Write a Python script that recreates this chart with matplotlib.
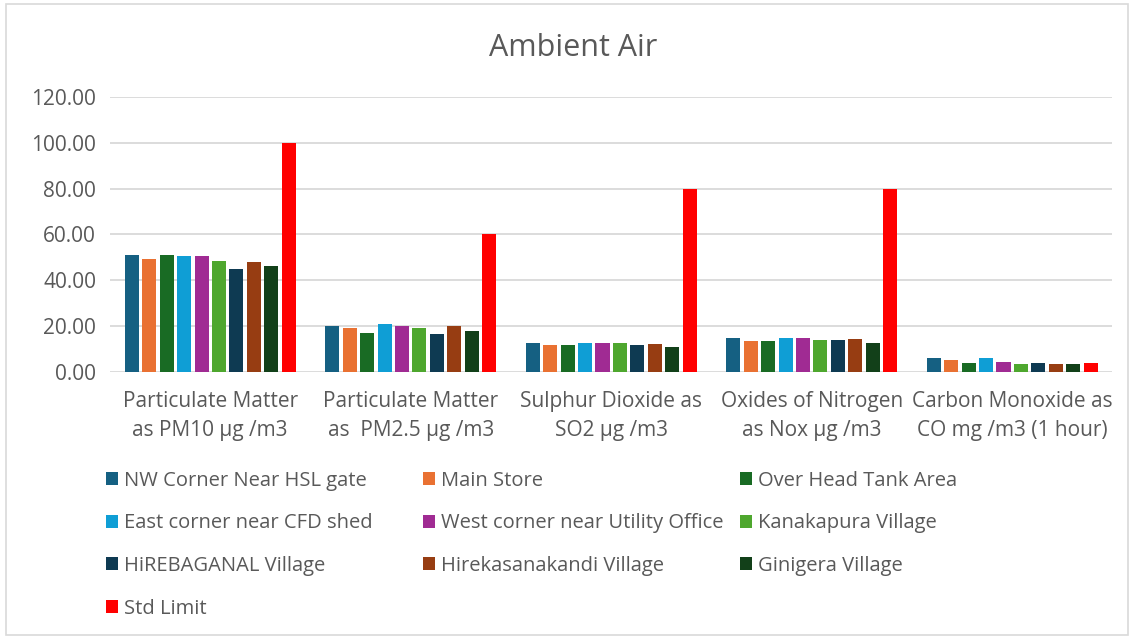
import matplotlib.pyplot as plt
import numpy as np
from matplotlib.patches import Rectangle

# Data
categories = ["Particulate Matter\nas PM10 µg /m3",
              "Particulate Matter\nas  PM2.5 µg /m3",
              "Sulphur Dioxide as\nSO2 µg /m3",
              "Oxides of Nitrogen\nas Nox µg /m3",
              "Carbon Monoxide as\nCO mg /m3 (1 hour)"]

locations = ["NW Corner Near HSL gate", "Main Store", "Over Head Tank Area",
             "East corner near CFD shed", "West corner near Utility Office", "Kanakapura Village",
             "HiREBAGANAL Village", "Hirekasanakandi Village", "Ginigera Village",
             "Std Limit"]

nw_corner = [51.0, 19.9, 12.6, 15.0, 6.2]
main_store = [49.3, 19.0, 11.9, 13.7, 5.0]
overhead_tank = [50.9, 16.8, 11.8, 13.7, 4.1]
east_corner = [50.6, 21.0, 12.8, 15.0, 6.2]
west_corner = [50.6, 19.9, 12.6, 15.0, 4.5]
kanakapura = [48.4, 19.0, 12.6, 14.1, 3.6]
hirebaganal = [44.8, 16.4, 11.9, 13.8, 4.1]
hirekasanakandi = [48.1, 20.0, 12.4, 14.5, 3.6]
ginigera = [46.4, 18.0, 11.0, 12.8, 3.6]
std_limit = [100, 60, 80, 80, 4.0]

colors = ["#156082", "#E97132", "#196B24", "#0F9ED5", "#A02B93",
          "#4EA72E", "#0E3A52", "#973D12", "#124019", "#FF0000"]

series = [nw_corner, main_store, overhead_tank, east_corner, west_corner,
          kanakapura, hirebaganal, hirekasanakandi, ginigera, std_limit]

text_col = "#595959"
plt.rcParams['font.family'] = ['Open Sans', 'DejaVu Sans']

fig = plt.figure(figsize=(11.34, 6.38), dpi=100)
ax = fig.add_axes([0.097, 0.417, 0.884, 0.431])

x = np.arange(len(categories))
slot = 0.087
width = 0.070
handles = []
for i, (vals, c) in enumerate(zip(series, colors)):
    offs = (i - 4.5) * slot
    b = ax.bar(x + offs, vals, width, color=c, label=locations[i], zorder=3)
    handles.append(b)

ax.set_xlim(-0.5, len(categories) - 0.5)
ax.set_ylim(0, 120)
ax.set_yticks(np.arange(0, 121, 20))
ax.set_yticklabels([f"{v:.2f}" for v in np.arange(0, 121, 20)])
ax.yaxis.grid(True, color="#D9D9D9", linewidth=1.3, zorder=0)
for s in ax.spines.values():
    s.set_visible(False)
ax.tick_params(axis="both", length=0, colors=text_col, labelsize=15)
ax.tick_params(axis="y", pad=10)
ax.tick_params(axis="x", pad=14)
ax.set_xticks(x)
ax.set_xticklabels(categories, linespacing=1.5)

fig.text(0.505, 0.925, "Ambient Air", ha="center", va="center", fontsize=22, color=text_col)

# legend laid out row by row in three equal columns, like the original
col_x = [106, 423, 740]
for c in range(3):
    idx = list(range(c, len(locations), 3))
    leg = fig.legend([handles[i] for i in idx], [locations[i] for i in idx],
                     loc="upper left", bbox_to_anchor=(col_x[c] / 1134, 0.262),
                     frameon=False, fontsize=14.5, labelcolor=text_col,
                     handlelength=0.6, handleheight=0.6, handletextpad=0.3,
                     labelspacing=1.12, borderaxespad=0, borderpad=0)

fig.patches.append(Rectangle((0.005, 0.004), 0.99, 0.99, transform=fig.transFigure,
                             fill=False, edgecolor="#D9D9D9", linewidth=1.2))

fig.savefig("out.png", dpi=100)
